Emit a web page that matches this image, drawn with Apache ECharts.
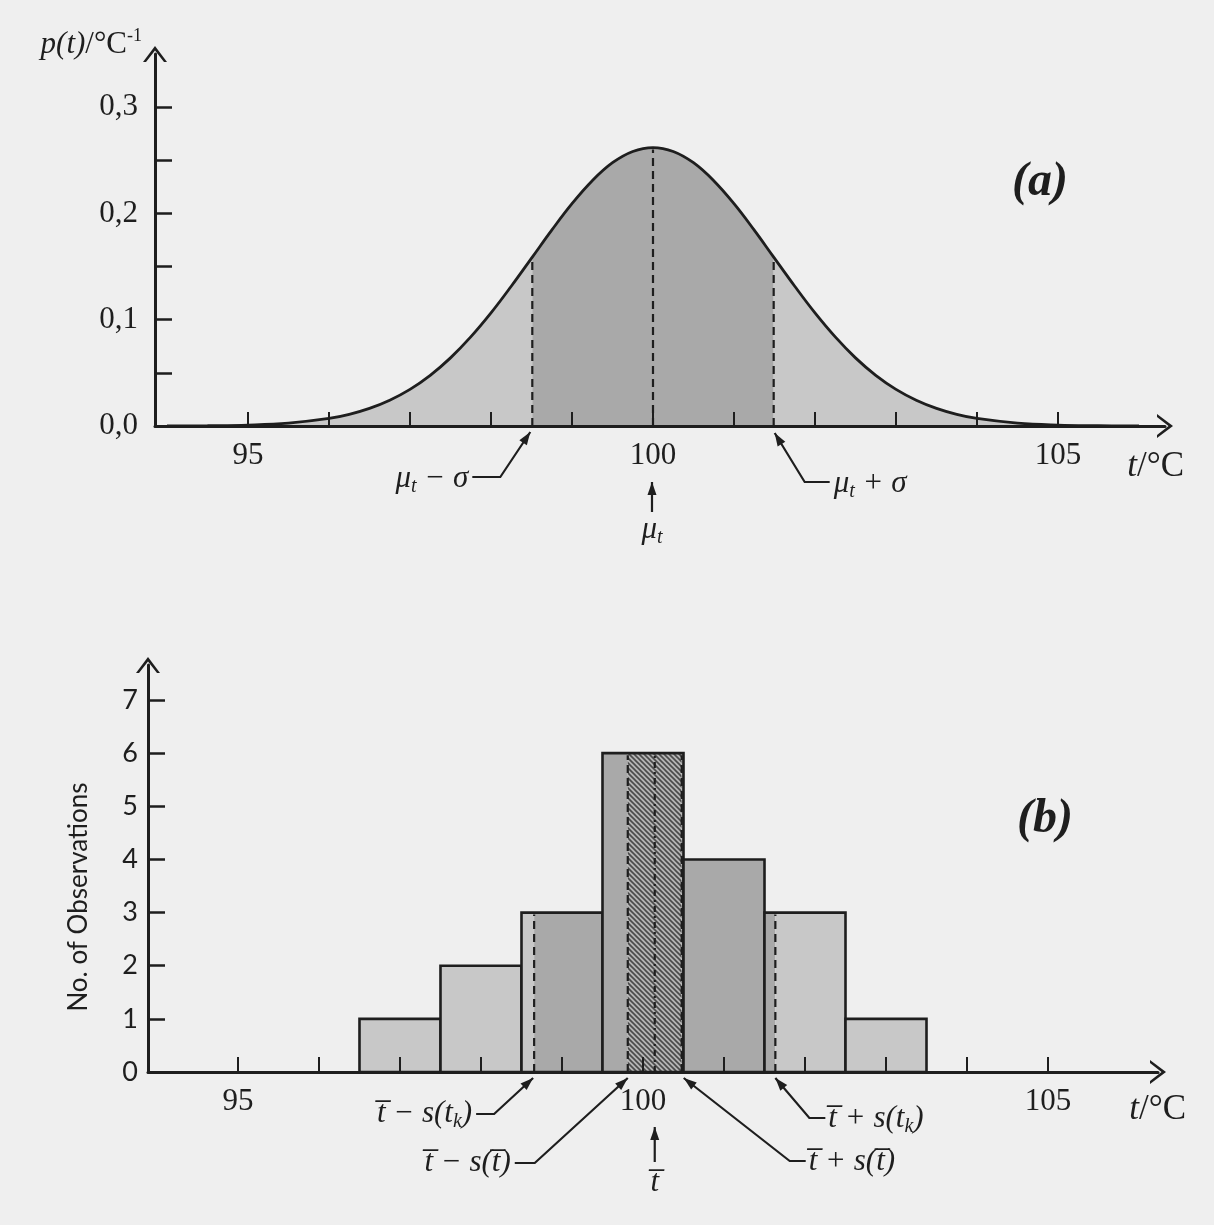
<!DOCTYPE html>
<html><head><meta charset="utf-8">
<script src="https://cdn.jsdelivr.net/npm/echarts@6/dist/echarts.min.js"></script>
<style>html,body{margin:0;padding:0;background:#efefef}#c{width:1214px;height:1225px}</style>
</head><body><div id="c"></div>
<script>
// ---------------- data : panel (a) ----------------
const curveT = [94, 94.5, 95, 95.5, 96, 96.25, 96.5, 96.75, 97, 97.25, 97.5, 97.75, 98, 98.25, 98.51, 98.75, 99, 99.25, 99.5, 99.75, 100, 100.25, 100.5, 100.75, 101, 101.25, 101.49, 101.75, 102, 102.25, 102.5, 102.75, 103, 103.25, 103.5, 103.75, 104, 104.5, 105, 105.5, 106];
const curveP = [0.0000, 0.0003, 0.0009, 0.0027, 0.0071, 0.0110, 0.0166, 0.0243, 0.0345, 0.0477, 0.0641, 0.0838, 0.1064, 0.1315, 0.1589, 0.1843, 0.2092, 0.2308, 0.2477, 0.2583, 0.2620, 0.2583, 0.2477, 0.2308, 0.2092, 0.1843, 0.1589, 0.1315, 0.1064, 0.0838, 0.0641, 0.0477, 0.0345, 0.0243, 0.0166, 0.0110, 0.0071, 0.0027, 0.0009, 0.0003, 0.0000];
const muT = 100.0;
const sigma = 1.49;
const ticksTA = [95, 96, 97, 98, 99, 100, 101, 102, 103, 104, 105];
const labelsTA = [95, 100, 105];
const ticksPA = [0.05, 0.1, 0.15, 0.2, 0.25, 0.3];
const labelsPA = [0, 0.1, 0.2, 0.3];

// ---------------- data : panel (b) ----------------
const binCenters = [97, 98, 99, 100, 101, 102, 103];
const binCounts = [1, 2, 3, 6, 4, 3, 1];
const tBar = 100.145;
const sTk = 1.489;
const sTbar = 0.333;
const ticksTB = [95, 96, 97, 98, 99, 100, 101, 102, 103, 104, 105];
const labelsTB = [95, 100, 105];
const ticksNB = [1, 2, 3, 4, 5, 6, 7];
const labelsNB = [0, 1, 2, 3, 4, 5, 6, 7];

// ---------------- styles ----------------
const INK = '#1e1e1e';
const LIGHT = '#c8c8c8';
const MID = '#a9a9a9';
const SERIF = '"Liberation Serif", "DejaVu Serif", serif';
const SANS = 'Lato, "Open Sans", sans-serif';
const ARROW = 'path://M0,16 L12,0 L24,16 L21,16 L12,4.5 L3,16 Z';

// diagonal hatch pattern for the central band of (b)
function hatchCanvas() {
  const c = document.createElement('canvas');
  c.width = 5; c.height = 5;
  const g = c.getContext('2d');
  g.fillStyle = '#b4b4b4'; g.fillRect(0, 0, 5, 5);
  g.strokeStyle = '#4a4a4a'; g.lineWidth = 1.6;
  g.beginPath(); g.moveTo(-1, -1); g.lineTo(6, 6); g.moveTo(-1, 4); g.lineTo(1, 6); g.moveTo(4, -1); g.lineTo(6, 1); g.stroke();
  return c;
}
const HATCH = {image: hatchCanvas(), repeat: 'repeat'};

const richBase = {
  i: {fontFamily: SERIF, fontStyle: 'italic', fontSize: 31, lineHeight: 36, fill: INK},
  r: {fontFamily: SERIF, fontSize: 31, lineHeight: 36, fill: INK},
  I: {fontFamily: SERIF, fontStyle: 'italic', fontSize: 35, lineHeight: 40, fill: INK},
  R: {fontFamily: SERIF, fontSize: 35, lineHeight: 40, fill: INK},
  s: {fontFamily: SERIF, fontStyle: 'italic', fontSize: 20, lineHeight: 20, verticalAlign: 'bottom', fill: INK},
  sup: {fontFamily: SERIF, fontSize: 18, lineHeight: 18, verticalAlign: 'top', fill: INK}
};

const chart = echarts.init(document.getElementById('c'), null, {renderer: 'canvas'});

function axisCommon() {
  return {
    axisLine: {show: true, onZero: false, symbol: ['none', ARROW], symbolSize: [24, 16], symbolOffset: [0, 0],
      lineStyle: {color: INK, width: 3}},
    splitLine: {show: false},
    z: 10
  };
}

function head(tip, from, len, wid) {
  const dx = tip[0] - from[0], dy = tip[1] - from[1];
  const L = Math.hypot(dx, dy) || 1;
  const ux = dx / L, uy = dy / L;
  const bx = tip[0] - ux * len, by = tip[1] - uy * len;
  return {type: 'polygon', shape: {points: [tip, [bx - uy * wid / 2, by + ux * wid / 2], [bx + uy * wid / 2, by - ux * wid / 2]]},
    style: {fill: INK}};
}

// annotation layouts (pixel offsets relative to the tip on the axis)
const layoutA = [
  {pts: [[-2, 6], [-32, 51], [-60, 51]], text: '{i|μ}{s|t}{i| − σ}', tp: [-64, 53], align: 'right'},
  {pts: [[-1, 56], [-1, 86]], text: '{i|μ}{s|t}', tp: [-1, 104], align: 'center'},
  {pts: [[1, 7], [31, 56], [56, 56]], text: '{i|μ}{s|t}{i| + σ}', tp: [60, 58], align: 'left'}
];
const layoutB = [
  {pts: [[-1, 6], [-40, 42], [-58, 42]], text: '{i|t̅ − s(t}{s|k}{i|)}', tp: [-62, 42], align: 'right'},
  {pts: [[0, 6], [-93, 91], [-113, 91]], text: '{i|t̅ − s(t̅)}', tp: [-117, 91], align: 'right'},
  {pts: [[0, 55], [0, 90]], text: '{i|t̅}', tp: [0, 111], align: 'center'},
  {pts: [[2, 6], [108, 89], [124, 89]], text: '{i|t̅ + s(t̅)}', tp: [127, 90], align: 'left'},
  {pts: [[0, 6], [34, 46], [50, 46]], text: '{i|t̅ + s(t}{s|k}{i|)}', tp: [53, 47], align: 'left'}
];

function makeAnnRender(layouts) {
  return function (params, api) {
    const lay = layouts[params.dataIndex];
    const tip = api.coord([api.value(0), 0]);
    const pts = lay.pts.map(p => [tip[0] + p[0], tip[1] + p[1]]);
    return {type: 'group', children: [
      {type: 'polyline', shape: {points: pts}, style: {stroke: INK, lineWidth: 2.2, fill: 'none'}},
      head(pts[0], pts[1], 13, 9),
      {type: 'text', x: tip[0] + lay.tp[0], y: tip[1] + lay.tp[1],
        style: {text: lay.text, rich: richBase, align: lay.align, verticalAlign: 'middle'}}
    ]};
  };
}

const curvePts = curveT.map((t, i) => [t, curveP[i]]);
const lo = muT - sigma, hi = muT + sigma;
const leftTail = curvePts.filter(p => p[0] <= lo + 1e-9);
const middle = curvePts.filter(p => p[0] >= lo - 1e-9 && p[0] <= hi + 1e-9);
const rightTail = curvePts.filter(p => p[0] >= hi - 1e-9);
function curveAt(t) { const k = curveT.findIndex(v => Math.abs(v - t) < 1e-9); return curveP[k]; }
const dashA = [lo, muT, hi].map(t => [t, curveAt(t)]);

function binHeight(t) {
  for (let i = 0; i < binCenters.length; i++) {
    if (t >= binCenters[i] - 0.5 && t < binCenters[i] + 0.5) return binCounts[i];
  }
  return 0;
}
const dashBx = [tBar - sTk, tBar - sTbar, tBar, tBar + sTbar, tBar + sTk];
const dashB = dashBx.map(t => [t, binHeight(t)]);

function renderBar(params, api) {
  const c = api.value(0), h = api.value(1);
  const x0 = c - 0.5, x1 = c + 0.5;
  const zones = [
    [-1e9, tBar - sTk, LIGHT],
    [tBar - sTk, tBar - sTbar, MID],
    [tBar - sTbar, tBar + sTbar, HATCH],
    [tBar + sTbar, tBar + sTk, MID],
    [tBar + sTk, 1e9, LIGHT]
  ];
  const yTop = api.coord([c, h])[1], yBot = api.coord([c, 0])[1];
  const children = [];
  zones.forEach(z => {
    const a = Math.max(x0, z[0]), b = Math.min(x1, z[1]);
    if (b > a) {
      const pa = api.coord([a, 0])[0], pb = api.coord([b, 0])[0];
      children.push({type: 'rect', shape: {x: pa, y: yTop, width: pb - pa, height: yBot - yTop}, style: {fill: z[2]}});
    }
  });
  const p0 = api.coord([x0, 0])[0], p1 = api.coord([x1, 0])[0];
  children.push({type: 'rect', shape: {x: p0, y: yTop, width: p1 - p0, height: yBot - yTop},
    style: {fill: 'none', stroke: INK, lineWidth: 2.6}});
  return {type: 'group', children};
}

function makeDash(dashDotCenter) {
  return function (params, api) {
    const x = api.value(0), h = api.value(1);
    const a = api.coord([x, 0]), b = api.coord([x, h]);
    const center = dashDotCenter && Math.abs(x - tBar) < 1e-9;
    return {type: 'line', shape: {x1: a[0], y1: a[1], x2: b[0], y2: b[1] + 2},
      style: {stroke: INK, lineWidth: 2.2, lineDash: center ? [6, 4, 2, 4] : [8, 5]}};
  };
}

const option = {
  backgroundColor: '#efefef',
  animation: false,
  grid: [
    {left: 155, top: 54, width: 1010, height: 372, containLabel: false},
    {left: 148, top: 665, width: 1010, height: 407, containLabel: false}
  ],
  xAxis: [
    Object.assign(axisCommon(), {gridIndex: 0, type: 'value', min: 93.852, max: 106.321,
      axisTick: {show: true, inside: true, length: 14, customValues: ticksTA, lineStyle: {color: INK, width: 2}},
      axisLabel: {show: true, customValues: labelsTA, margin: 14, fontFamily: SERIF, fontSize: 31, color: INK}}),
    Object.assign(axisCommon(), {gridIndex: 1, type: 'value', min: 93.889, max: 106.358,
      axisTick: {show: true, inside: true, length: 15, customValues: ticksTB, lineStyle: {color: INK, width: 2}},
      axisLabel: {show: true, customValues: labelsTB, margin: 14, fontFamily: SERIF, fontSize: 31, color: INK}})
  ],
  yAxis: [
    Object.assign(axisCommon(), {gridIndex: 0, type: 'value', min: 0, max: 0.35,
      axisTick: {show: true, inside: true, length: 17, customValues: ticksPA, lineStyle: {color: INK, width: 2.5}},
      axisLabel: {show: true, customValues: labelsPA, margin: 17, fontFamily: SERIF, fontSize: 31, color: INK,
        formatter: v => v.toFixed(1).replace('.', ',')}}),
    Object.assign(axisCommon(), {gridIndex: 1, type: 'value', min: 0, max: 7.659,
      axisTick: {show: true, inside: true, length: 17, customValues: ticksNB, lineStyle: {color: INK, width: 2.5}},
      axisLabel: {show: true, customValues: labelsNB, margin: 10, fontFamily: SANS, fontSize: 27, color: INK}})
  ],
  series: [
    {type: 'line', xAxisIndex: 0, yAxisIndex: 0, data: leftTail, smooth: 0.4, symbol: 'none',
      lineStyle: {width: 0}, areaStyle: {color: LIGHT, opacity: 1}, z: 1},
    {type: 'line', xAxisIndex: 0, yAxisIndex: 0, data: middle, smooth: 0.4, symbol: 'none',
      lineStyle: {width: 0}, areaStyle: {color: MID, opacity: 1}, z: 1},
    {type: 'line', xAxisIndex: 0, yAxisIndex: 0, data: rightTail, smooth: 0.4, symbol: 'none',
      lineStyle: {width: 0}, areaStyle: {color: LIGHT, opacity: 1}, z: 1},
    {type: 'line', xAxisIndex: 0, yAxisIndex: 0, data: curvePts, smooth: 0.4, symbol: 'none',
      lineStyle: {width: 2.8, color: INK}, z: 3, clip: false},
    {type: 'custom', xAxisIndex: 0, yAxisIndex: 0, data: dashA, renderItem: makeDash(false), z: 4, clip: false},
    {type: 'custom', xAxisIndex: 0, yAxisIndex: 0, data: [[lo], [muT], [hi]],
      renderItem: makeAnnRender(layoutA), z: 12, clip: false},

    {type: 'custom', xAxisIndex: 1, yAxisIndex: 1, data: binCenters.map((c, i) => [c, binCounts[i]]),
      renderItem: renderBar, z: 2, clip: false},
    {type: 'custom', xAxisIndex: 1, yAxisIndex: 1, data: dashB, renderItem: makeDash(true), z: 4, clip: false},
    {type: 'custom', xAxisIndex: 1, yAxisIndex: 1, data: dashBx.map(v => [v]),
      renderItem: makeAnnRender(layoutB), z: 12, clip: false}
  ],
  graphic: [
    {type: 'text', x: 142, y: 45, style: {text: '{i|p(t)}{r|/°C}{sup|-1}', rich: richBase, align: 'right', verticalAlign: 'middle'}},
    {type: 'text', x: 1184, y: 467, style: {text: '{I|t}{R|/°C}', rich: richBase, align: 'right', verticalAlign: 'middle'}},
    {type: 'text', x: 1186, y: 1110, style: {text: '{I|t}{R|/°C}', rich: richBase, align: 'right', verticalAlign: 'middle'}},
    {type: 'text', x: 1040, y: 183, style: {text: '(a)', font: 'italic bold 48px ' + SERIF, fill: INK, align: 'center', verticalAlign: 'middle'}},
    {type: 'text', x: 1045, y: 820, style: {text: '(b)', font: 'italic bold 48px ' + SERIF, fill: INK, align: 'center', verticalAlign: 'middle'}},
    {type: 'text', x: 79, y: 897, rotation: Math.PI / 2,
      style: {text: 'No. of Observations', font: '26px ' + SANS, fill: INK, align: 'center', verticalAlign: 'middle'}}
  ]
};
chart.setOption(option);
</script></body></html>
